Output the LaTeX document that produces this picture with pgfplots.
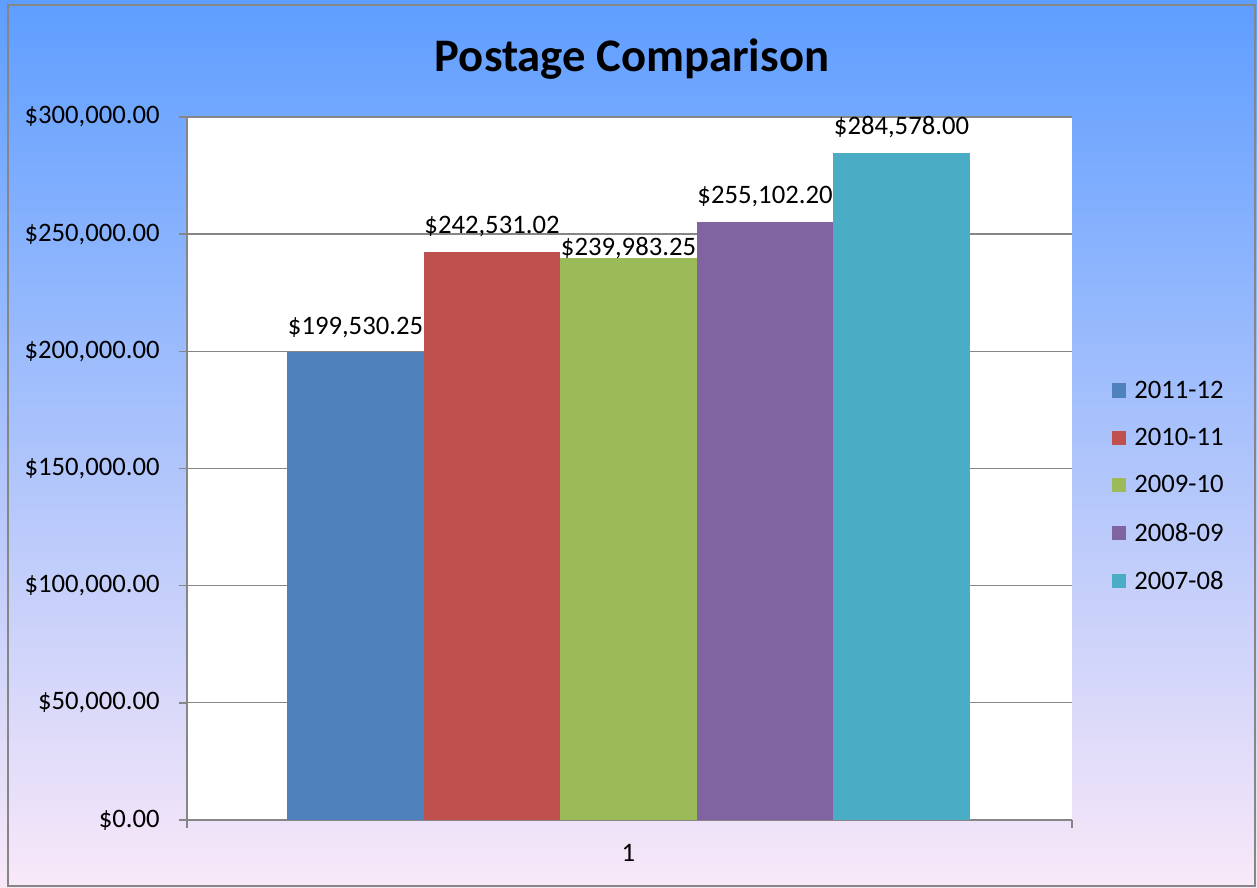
\documentclass[border=0pt]{standalone}
\usepackage{pgfplots}
\pgfplotsset{compat=1.18}
\usepackage{fontspec}
\setmainfont{Carlito}
\definecolor{bgTop}{HTML}{5E9EFF}
\definecolor{bgMid}{HTML}{A9CBF6}
\definecolor{bgBot}{HTML}{F9E8F8}
\definecolor{cA}{HTML}{4F81BD}
\definecolor{cB}{HTML}{C0504D}
\definecolor{cC}{HTML}{9BBB59}
\definecolor{cD}{HTML}{8064A2}
\definecolor{cE}{HTML}{4BACC6}
\definecolor{axgray}{HTML}{868686}
\begin{document}
\begin{tikzpicture}
% page frame: 1257 x 888 px at 0.75pt per px
\useasboundingbox (0pt,0pt) rectangle (942.75pt,666pt);
\shade[top color=bgTop, middle color=bgMid, bottom color=bgBot] (0pt,0pt) rectangle (942.75pt,666pt);
\draw[axgray, line width=1.5pt] (6pt,1.5pt) rectangle (941.25pt,662.25pt);
\node[font=\fontsize{35}{40}\selectfont\bfseries] at (474pt,622pt) {Postage Comparison};
\begin{axis}[
    at={(140.25pt,51pt)}, anchor=south west,
    scale only axis, width=663.75pt, height=527.25pt,
    xmin=0, xmax=885, ymin=0, ymax=300000,
    ybar, bar width=102.4pt,
    every axis plot/.append style={bar shift=0pt, draw=none},
    axis background/.style={fill=white},
    axis x line=bottom, axis y line=left,
    axis line style={-, axgray, line width=1.2pt},
    xtick={0,885}, xticklabels={},
    extra x ticks={441.5}, extra x tick labels={1},
    extra x tick style={major tick length=0pt, grid=none},
    ytick={0,50000,...,300000},
    scaled y ticks=false,
    yticklabel={\$\pgfmathprintnumber[fixed,fixed zerofill,precision=2,1000 sep={,}]{\tick}},
    ticklabel style={font=\fontsize{20}{24}\selectfont},
    /pgf/number format/assume math mode=true,
    tick align=outside, major tick length=6pt,
    tick style={axgray, line width=1.2pt},
    ymajorgrids, major grid style={axgray, line width=1pt},
    xticklabel style={yshift=-15pt},
    yticklabel style={xshift=-11pt},
    nodes near coords, point meta=explicit symbolic,
    nodes near coords style={font=\fontsize{20}{24}\selectfont, text=black, inner sep=2pt, yshift=9pt},
    legend style={at={(1.04,0.475)}, anchor=west, draw=none, fill=none,
        font=\fontsize{20}{24}\selectfont, row sep=17pt,
        /tikz/every odd column/.append style={column sep=4pt}},
    legend cell align=left,
    legend image code/.code={\fill[#1] (0pt,-5.5pt) rectangle (11pt,5.5pt);},
]
\addplot[fill=cA] coordinates {(168.5,199530.25) [\$199,530.25]};
\addplot[fill=cB] coordinates {(305,242531.02) [\$242,531.02]};
\addplot[fill=cC, nodes near coords style={yshift=-12pt}] coordinates {(441.5,239983.25) [\$239,983.25]};
\addplot[fill=cD] coordinates {(578,255102.20) [\$255,102.20]};
\addplot[fill=cE] coordinates {(714.5,284578.00) [\$284,578.00]};
\legend{2011-12,2010-11,2009-10,2008-09,2007-08}
\end{axis}
\end{tikzpicture}
\end{document}
